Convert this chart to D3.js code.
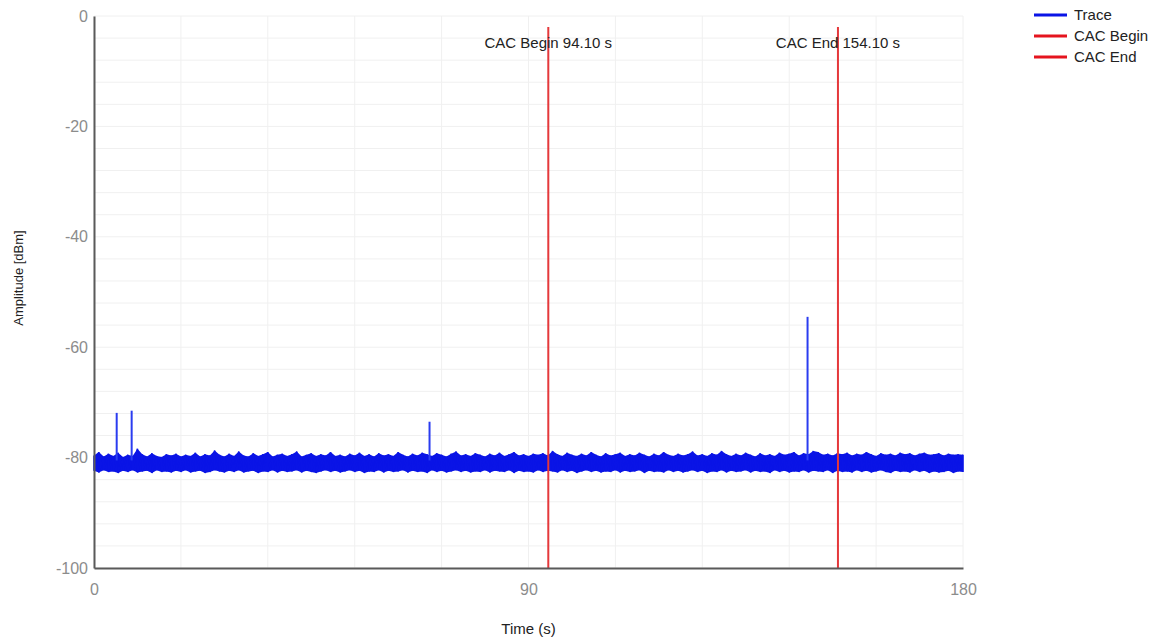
<!DOCTYPE html>
<html>
<head>
<meta charset="utf-8">
<script src="https://cdn.jsdelivr.net/npm/d3@7"></script>
<style>
  body { margin: 0; background: #fff; }
  svg { font-family: "Liberation Sans", Arial, sans-serif; }
</style>
</head>
<body>
<div id="chart"></div>
<script>
// sample times (s) of the trace envelope
const traceTime = [0,1,2,3,4,5,6,7,8,9,10,11,12,13,14,15,16,17,18,19,20,21,22,23,24,25,26,27,28,29,
  30,31,32,33,34,35,36,37,38,39,40,41,42,43,44,45,46,47,48,49,50,51,52,53,54,55,56,57,58,59,
  60,61,62,63,64,65,66,67,68,69,70,71,72,73,74,75,76,77,78,79,80,81,82,83,84,85,86,87,88,89,
  90,91,92,93,94,95,96,97,98,99,100,101,102,103,104,105,106,107,108,109,110,111,112,113,114,115,116,117,118,119,
  120,121,122,123,124,125,126,127,128,129,130,131,132,133,134,135,136,137,138,139,140,141,142,143,144,145,146,147,148,149,
  150,151,152,153,154,155,156,157,158,159,160,161,162,163,164,165,166,167,168,169,170,171,172,173,174,175,176,177,178,179,180];

// upper edge of the noise band (dBm)
const traceHigh = [
  -79.6,-79.0,-79.8,-79.3,-79.7,-79.1,-79.9,-79.5,-79.7,-78.4,
  -79.4,-79.8,-79.2,-79.7,-79.9,-79.4,-79.6,-79.3,-79.8,-79.5,
  -79.7,-79.1,-79.8,-79.4,-79.6,-78.7,-79.5,-79.8,-79.3,-79.7,
  -78.9,-79.6,-79.8,-79.2,-79.7,-79.4,-79.0,-79.8,-79.5,-79.3,
  -79.7,-79.4,-78.9,-79.8,-79.5,-79.2,-79.7,-79.4,-79.6,-79.0,
  -79.7,-79.5,-79.8,-79.3,-79.6,-79.1,-79.7,-79.4,-79.8,-79.2,
  -79.6,-79.4,-79.7,-79.0,-79.5,-79.8,-79.3,-79.6,-79.1,-79.4,
  -79.7,-79.2,-79.5,-79.8,-79.3,-78.9,-79.6,-79.4,-79.7,-79.2,
  -79.5,-79.8,-79.3,-79.6,-79.1,-79.7,-79.4,-79.0,-79.6,-79.4,
  -79.7,-79.3,-79.5,-79.2,-79.6,-78.8,-79.4,-79.7,-79.1,-79.5,
  -79.7,-79.3,-79.6,-79.0,-79.5,-79.8,-79.2,-79.6,-79.4,-79.1,
  -79.7,-79.4,-79.6,-79.1,-79.5,-79.8,-79.3,-79.6,-79.0,-79.5,
  -79.7,-79.3,-79.6,-79.4,-78.9,-79.6,-79.4,-79.7,-79.2,-79.5,
  -78.8,-79.4,-79.7,-79.3,-79.6,-79.1,-79.5,-79.8,-79.2,-79.6,
  -79.4,-79.7,-79.1,-79.5,-79.3,-79.0,-79.6,-79.2,-79.4,-78.8,
  -79.0,-79.5,-79.3,-79.6,-79.2,-79.4,-79.1,-79.6,-79.3,-79.5,
  -79.0,-79.4,-79.7,-79.2,-79.5,-79.3,-79.6,-79.1,-79.4,-79.2,
  -79.6,-79.3,-79.1,-79.5,-79.4,-79.2,-79.6,-79.3,-79.5,-79.4,
  -79.5];

// lower edge of the noise band (dBm)
const traceLow = [
  -82.4,-82.7,-82.3,-82.6,-82.5,-82.8,-82.4,-82.6,-82.3,-82.7,
  -82.5,-82.4,-82.8,-82.3,-82.6,-82.5,-82.7,-82.4,-82.6,-82.3,
  -82.7,-82.5,-82.4,-82.8,-82.6,-82.3,-82.5,-82.7,-82.4,-82.6,
  -82.3,-82.7,-82.5,-82.4,-82.8,-82.5,-82.6,-82.3,-82.7,-82.4,
  -82.6,-82.5,-82.3,-82.7,-82.4,-82.6,-82.8,-82.5,-82.3,-82.6,
  -82.4,-82.7,-82.5,-82.3,-82.6,-82.4,-82.8,-82.5,-82.6,-82.3,
  -82.7,-82.4,-82.6,-82.5,-82.3,-82.7,-82.4,-82.6,-82.5,-82.8,
  -82.3,-82.6,-82.4,-82.7,-82.5,-82.3,-82.6,-82.4,-82.7,-82.5,
  -82.6,-82.3,-82.7,-82.4,-82.5,-82.6,-82.3,-82.8,-82.4,-82.6,
  -82.5,-82.7,-82.3,-82.6,-82.4,-82.5,-82.7,-82.3,-82.6,-82.4,
  -82.8,-82.5,-82.3,-82.6,-82.4,-82.7,-82.5,-82.6,-82.3,-82.7,
  -82.4,-82.6,-82.5,-82.3,-82.8,-82.4,-82.6,-82.5,-82.7,-82.3,
  -82.6,-82.4,-82.7,-82.5,-82.3,-82.6,-82.4,-82.8,-82.5,-82.6,
  -82.3,-82.7,-82.4,-82.6,-82.5,-82.3,-82.7,-82.4,-82.6,-82.5,
  -82.8,-82.3,-82.6,-82.4,-82.7,-82.5,-82.6,-82.3,-82.7,-82.4,
  -82.5,-82.6,-82.3,-82.8,-82.4,-82.6,-82.5,-82.7,-82.3,-82.6,
  -82.4,-82.7,-82.5,-82.3,-82.6,-82.8,-82.4,-82.6,-82.5,-82.7,
  -82.3,-82.6,-82.4,-82.8,-82.5,-82.7,-82.6,-82.4,-82.8,-82.5,
  -82.6];

// isolated spikes in the trace
const spikeTime = [4.7, 7.8, 69.5, 147.8];
const spikePeak = [-71.9, -71.5, -73.5, -54.5];

// CAC markers
const markerNames = ["CAC Begin", "CAC End"];
const markerTime = [94.1, 154.1];

const xTicks = [0, 90, 180];
const yTicks = [0, -20, -40, -60, -80, -100];

const W = 1164, H = 642;
const margin = { top: 16, right: 201, bottom: 74, left: 94 };
const width = W - margin.left - margin.right;
const height = H - margin.top - margin.bottom;

const svg = d3.select("#chart").append("svg")
  .attr("width", W).attr("height", H);

const g = svg.append("g")
  .attr("transform", "translate(" + margin.left + "," + margin.top + ")");

const x = d3.scaleLinear().domain([0, 180]).range([0, width]);
const y = d3.scaleLinear().domain([-100, 0]).range([height, 0]);

// light grid
g.append("g").selectAll("line")
  .data(d3.range(0, 181, 18))
  .join("line")
  .attr("x1", d => x(d)).attr("x2", d => x(d))
  .attr("y1", 0).attr("y2", height)
  .attr("stroke", "#f0f0f0").attr("stroke-width", 1);

g.append("g").selectAll("line")
  .data(d3.range(-100, 1, 4))
  .join("line")
  .attr("x1", 0).attr("x2", width)
  .attr("y1", d => y(d)).attr("y2", d => y(d))
  .attr("stroke", "#f0f0f0").attr("stroke-width", 1);

// trace
const pts = traceTime.map((t, i) => ({ t: t, hi: traceHigh[i], lo: traceLow[i] }));

g.append("path")
  .datum(pts)
  .attr("fill", "#0a14e6")
  .attr("d", d3.area().x(d => x(d.t)).y0(d => y(d.lo)).y1(d => y(d.hi)));

const zig = [];
pts.forEach(p => { zig.push([p.t, p.hi]); zig.push([p.t, p.lo]); });
g.append("path")
  .datum(zig)
  .attr("fill", "none")
  .attr("stroke", "#0a14e6")
  .attr("stroke-width", 1.6)
  .attr("d", d3.line().x(d => x(d[0])).y(d => y(d[1])));

g.append("g").selectAll("line")
  .data(spikeTime)
  .join("line")
  .attr("x1", d => x(d)).attr("x2", d => x(d))
  .attr("y1", y(-80.5))
  .attr("y2", (d, i) => y(spikePeak[i]))
  .attr("stroke", "#2a3cf0").attr("stroke-width", 2);

// CAC marker lines
g.append("g").selectAll("line")
  .data(markerTime)
  .join("line")
  .attr("x1", d => x(d)).attr("x2", d => x(d))
  .attr("y1", y(-2)).attr("y2", height)
  .attr("stroke", "#e5383b").attr("stroke-width", 2);

g.append("g").selectAll("text")
  .data(markerTime)
  .join("text")
  .attr("x", d => x(d))
  .attr("y", 32)
  .attr("text-anchor", "middle")
  .attr("font-size", "15px")
  .attr("fill", "#222")
  .text((d, i) => markerNames[i] + " " + d.toFixed(2) + " s");

// axes
const xAxis = g.append("g")
  .attr("transform", "translate(0," + height + ")")
  .call(d3.axisBottom(x).tickValues(xTicks).tickSize(0).tickPadding(16)
    .tickFormat(d => String(d)));
const yAxis = g.append("g")
  .call(d3.axisLeft(y).tickValues(yTicks).tickSize(0).tickPadding(6)
    .tickFormat(d => String(d)));

[xAxis, yAxis].forEach(a => {
  a.select(".domain").attr("stroke", "#5a5a5a").attr("stroke-width", 2);
  a.selectAll("text").attr("fill", "#8c8c8c").attr("font-size", "16px")
    .attr("font-family", "'Liberation Sans', Arial, sans-serif");
});

// axis titles
g.append("text")
  .attr("x", width / 2)
  .attr("y", height + 66)
  .attr("text-anchor", "middle")
  .attr("font-size", "15px")
  .attr("fill", "#222")
  .text("Time (s)");

g.append("text")
  .attr("transform", "rotate(-90)")
  .attr("x", -(y(-50)) + 14)
  .attr("y", -71)
  .attr("text-anchor", "middle")
  .attr("font-size", "13px")
  .attr("fill", "#222")
  .text("Amplitude [dBm]");

// legend
const legendItems = ["Trace", "CAC Begin", "CAC End"];
const legendColours = ["#0a14e6", "#e5141e", "#e5141e"];
const legend = svg.append("g").attr("transform", "translate(1034,15)");
legendItems.forEach((name, i) => {
  const row = legend.append("g").attr("transform", "translate(0," + (i * 21) + ")");
  row.append("line").attr("x1", 0).attr("x2", 33)
    .attr("stroke", legendColours[i]).attr("stroke-width", 3);
  row.append("text").attr("x", 40).attr("y", 5)
    .attr("font-size", "15px").attr("fill", "#222").text(name);
});
</script>
</body>
</html>
